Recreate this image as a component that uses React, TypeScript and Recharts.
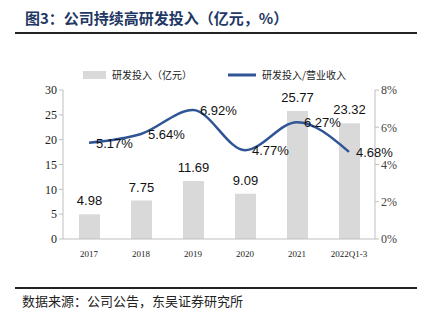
import React from 'react';
import { ComposedChart, Bar, Line, XAxis, YAxis, LabelList } from 'recharts';

const categories = ['2017', '2018', '2019', '2020', '2021', '2022Q1-3'];
const rdSpend = [4.98, 7.75, 11.69, 9.09, 25.77, 23.32];
const rdRatio = [5.17, 5.64, 6.92, 4.77, 6.27, 4.68];
const leftTicks = [0, 5, 10, 15, 20, 25, 30];
const rightTicks = [0, 2, 4, 6, 8];

const data = categories.map((c, i) => ({ name: c, spend: rdSpend[i], ratio: rdRatio[i] }));

const serif = '"Liberation Serif", "Times New Roman", serif';
const sans = '"Liberation Sans", Arial, sans-serif';
const cjk = '"Noto Sans CJK SC", sans-serif';

const LineLabel = (props: any) => {
  const { x, y, value } = props;
  return (
    <text x={x + 7} y={y + 5} fontSize={13} fontFamily={sans} fill="#111" textAnchor="start">
      {value.toFixed(2)}%
    </text>
  );
};

export default function App() {
  return (
    <div style={{ position: 'absolute', left: 0, top: 0, width: 427, height: 327, background: '#fff' }}>
      <div style={{ position: 'absolute', left: 25, top: 7, fontFamily: cjk, fontWeight: 700, fontSize: 15, color: '#1f3864', whiteSpace: 'nowrap' }}>
        图3：公司持续高研发投入（亿元，%）
      </div>
      <div style={{ position: 'absolute', left: 15, top: 32, width: 402, height: 2, background: '#222' }} />
      <svg style={{ position: 'absolute', left: 0, top: 67 }} width={427} height={18}>
        <rect x={83} y={4} width={23} height={8} fill="#d9d9d9" />
        <text x={112} y={12} fontSize={10} fontFamily={cjk} fill="#222">研发投入（亿元）</text>
        <line x1={228} y1={8} x2={256} y2={8} stroke="#2f5597" strokeWidth={3} />
        <text x={262} y={12} fontSize={10} fontFamily={cjk} fill="#222">研发投入/营业收入</text>
      </svg>
      <div style={{ position: 'absolute', left: 0, top: 0 }}>
        <ComposedChart width={427} height={327} data={data} margin={{ top: 90, right: 12, bottom: 58, left: 20 }}>
          <XAxis dataKey="name" height={30} tick={{ fontSize: 9, fontFamily: serif, fill: '#222' }} axisLine={{ stroke: '#bfbfbf' }} tickLine={false} tickMargin={6} />
          <YAxis yAxisId="left" domain={[0, 30]} ticks={leftTicks} interval={0} width={43} tick={{ fontSize: 12, fontFamily: serif, fill: '#222' }} axisLine={{ stroke: '#bfbfbf' }} tickLine={{ stroke: '#bfbfbf' }} tickSize={4} />
          <YAxis yAxisId="right" orientation="right" domain={[0, 8]} ticks={rightTicks} interval={0} width={40} tickFormatter={(v: number) => `${v}%`} tick={{ fontSize: 12, fontFamily: serif, fill: '#444' }} axisLine={{ stroke: '#bfbfbf' }} tickLine={{ stroke: '#bfbfbf' }} tickSize={4} />
          <Bar yAxisId="left" dataKey="spend" fill="#d9d9d9" barSize={21} isAnimationActive={false}>
            <LabelList dataKey="spend" position="top" offset={9} fontSize={13} fontFamily={sans} fill="#111" formatter={(v: number) => v.toFixed(2)} />
          </Bar>
          <Line yAxisId="right" dataKey="ratio" type="monotone" stroke="#2f5597" strokeWidth={2.5} dot={false} isAnimationActive={false}>
            <LabelList dataKey="ratio" content={<LineLabel />} />
          </Line>
        </ComposedChart>
      </div>
      <div style={{ position: 'absolute', left: 15, top: 287, width: 402, height: 1.5, background: '#222' }} />
      <div style={{ position: 'absolute', left: 22, top: 291, fontFamily: cjk, fontSize: 13, color: '#222', whiteSpace: 'nowrap' }}>
        数据来源：公司公告，东吴证券研究所
      </div>
    </div>
  );
}
